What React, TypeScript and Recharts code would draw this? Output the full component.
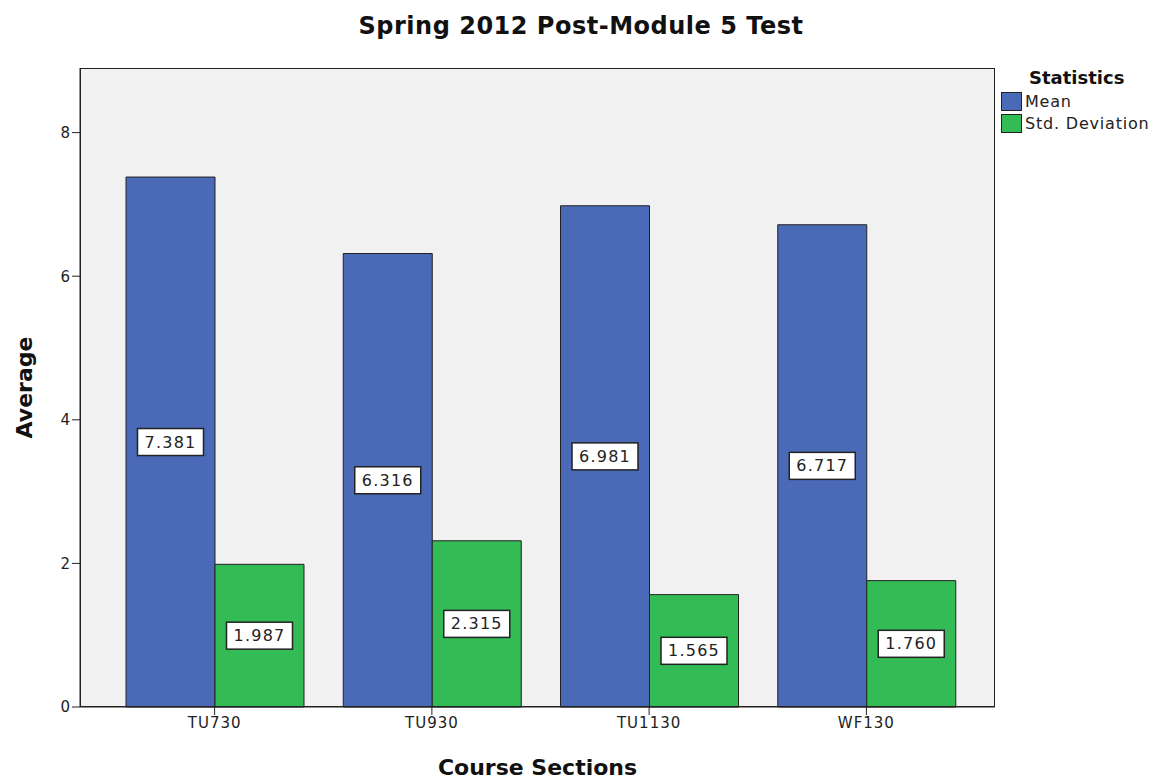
import { Bar, BarChart, CartesianGrid, Label, LabelList, Legend, XAxis, YAxis } from 'recharts'

const sections = ['TU730', 'TU930', 'TU1130', 'WF130']
const meanValues = [7.381, 6.316, 6.981, 6.717]
const stdValues = [1.987, 2.315, 1.565, 1.76]
const yTicks = [0, 2, 4, 6, 8]

const rows = sections.map((s, i) => ({ section: s, mean: meanValues[i], std: stdValues[i] }))

const FONT = '"DejaVu Sans", sans-serif'
const BLUE = '#4a6ab8'
const GREEN = '#33bb55'
const LEGEND_W = 170

function BoxLabel(props: any) {
  const { x, y, width, height, value } = props
  const cx = x + width / 2
  const cy = y + height / 2
  const text = Number(value).toFixed(3)
  const w = 66
  const h = 27
  return (
    <g>
      <rect x={cx - w / 2} y={cy - h / 2} width={w} height={h} fill="#fff" stroke="#222" strokeWidth={1.5} />
      <text x={cx} y={cy + 1} textAnchor="middle" dominantBaseline="middle" fontSize={16} fontFamily={FONT} letterSpacing={1.2} fill="#222">
        {text}
      </text>
    </g>
  )
}

function StatsLegend() {
  const item = (color: string, name: string) => (
    <div style={{ display: 'flex', alignItems: 'center', height: 22 }}>
      <span style={{ width: 19, height: 17, background: color, border: '1px solid #222', marginRight: 3 }} />
      <span style={{ fontSize: 16, letterSpacing: 0.8, color: '#222' }}>{name}</span>
    </div>
  )
  return (
    <div style={{ fontFamily: FONT }}>
      <div style={{ fontWeight: 'bold', fontSize: 18, marginLeft: 28, lineHeight: '24px', color: '#111' }}>Statistics</div>
      {item(BLUE, 'Mean')}
      {item(GREEN, 'Std. Deviation')}
    </div>
  )
}

export default function App() {
  return (
    <div style={{ position: 'absolute', left: 0, top: 0, width: 1171, height: 782, background: '#fff' }}>
      <div style={{ position: 'absolute', left: 0, top: 12, width: 1162, textAlign: 'center', fontFamily: FONT, fontWeight: 'bold', fontSize: 24, letterSpacing: 0.5, color: '#111' }}>
        Spring 2012 Post-Module 5 Test
      </div>
      <BarChart width={1171} height={782} data={rows} margin={{ top: 68, right: 176 - LEGEND_W, bottom: 0, left: 20 }} barCategoryGap={20} barGap={0}>
        <CartesianGrid horizontal={false} vertical={false} fill="#f1f1f1" />
        <XAxis
          dataKey="section"
          height={75}
          padding={{ left: 26, right: 20 }}
          stroke="#222"
          tickSize={8}
          tick={{ fontSize: 15, fill: '#222', fontFamily: FONT, letterSpacing: 1 }}
        >
          <Label value="Course Sections" position="insideBottom" offset={7} style={{ fontSize: 22, fontWeight: 'bold', fontFamily: FONT, fill: '#111' }} />
        </XAxis>
        <YAxis
          width={60}
          domain={[0, 8.9]}
          ticks={yTicks}
          stroke="#222"
          tickSize={8}
          tick={{ fontSize: 15, fill: '#222', fontFamily: FONT }}
        >
          <Label value="Average" angle={-90} position="insideLeft" offset={4} style={{ fontSize: 22, fontWeight: 'bold', fontFamily: FONT, fill: '#111', textAnchor: 'middle' }} />
        </YAxis>
        <Legend
          verticalAlign="top"
          align="right"
          layout="vertical"
          width={LEGEND_W}
          content={<StatsLegend />}
          wrapperStyle={{ position: 'absolute', left: 1001, top: 66, width: LEGEND_W }}
        />
        <Bar dataKey="mean" name="Mean" fill={BLUE} stroke="#222" strokeWidth={1} isAnimationActive={false}>
          <LabelList dataKey="mean" content={<BoxLabel />} />
        </Bar>
        <Bar dataKey="std" name="Std. Deviation" fill={GREEN} stroke="#222" strokeWidth={1} isAnimationActive={false}>
          <LabelList dataKey="std" content={<BoxLabel />} />
        </Bar>
      </BarChart>
      <div style={{ position: 'absolute', left: 80, top: 68, width: 915, height: 639, boxSizing: 'border-box', border: '1.5px solid #222', pointerEvents: 'none' }} />
    </div>
  )
}
